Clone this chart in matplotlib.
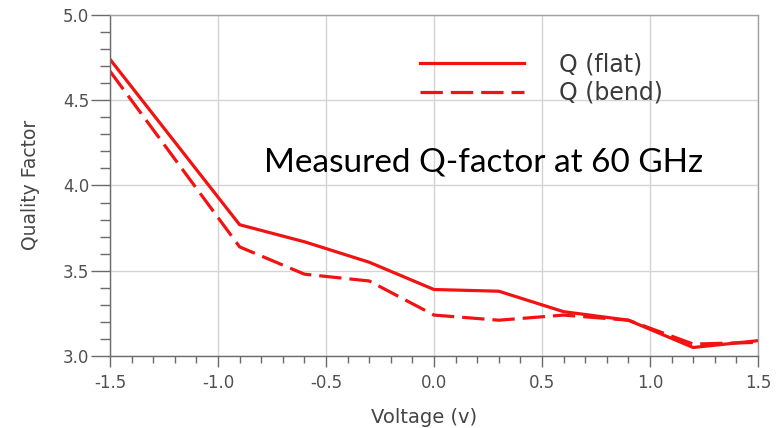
import numpy as np
import matplotlib
matplotlib.use("Agg")
from matplotlib import pyplot as plt
from matplotlib.ticker import MultipleLocator

voltage = [-1.5, -0.9, -0.6, -0.3, 0.0, 0.3, 0.6, 0.9, 1.2, 1.5]
q_flat = [4.74, 3.77, 3.67, 3.55, 3.39, 3.38, 3.26, 3.21, 3.05, 3.09]
q_bend = [4.67, 3.64, 3.48, 3.44, 3.24, 3.21, 3.24, 3.21, 3.07, 3.08]
labels = ['Q (flat)', 'Q (bend)']

red = '#f21212'
grey = '#6a6a6a'

plt.rcParams['font.family'] = ['DejaVu Sans']

fig = plt.figure(figsize=(7.82, 4.28), dpi=100)
ax = fig.add_axes([0.1407, 0.1682, 0.8286, 0.7968])

ax.plot(voltage, q_flat, color=red, lw=2.3, label=labels[0])
ax.plot(voltage, q_bend, color=red, lw=2.3, dashes=(7, 2.5), label=labels[1])

ax.set_xlim(-1.5, 1.5)
ax.set_ylim(3.0, 5.0)
ax.xaxis.set_major_locator(MultipleLocator(0.5))
ax.xaxis.set_minor_locator(MultipleLocator(0.1))
ax.yaxis.set_major_locator(MultipleLocator(0.5))
ax.yaxis.set_minor_locator(MultipleLocator(0.1))
ax.xaxis.set_major_formatter(lambda v, p: f'{v:.1f}')
ax.yaxis.set_major_formatter(lambda v, p: f'{v:.1f}')
ax.grid(True, which='major', color='#d4d4d4', lw=1.0)
ax.set_axisbelow(True)

for s in ax.spines.values():
    s.set_color('#a0a0a0')
    s.set_linewidth(1.0)
ax.spines['left'].set_color(grey)
ax.spines['bottom'].set_color(grey)
ax.tick_params(which='both', width=1.0, color=grey, labelsize=12, labelcolor='#505050')
ax.tick_params(axis='y', which='major', length=14, pad=1)
ax.tick_params(axis='y', which='minor', length=7)
ax.tick_params(axis='x', which='major', length=8, pad=5)
ax.tick_params(axis='x', which='minor', length=5)

ax.set_xlabel('Voltage (v)', fontsize=14, color='#454545')
ax.set_ylabel('Quality Factor', fontsize=13.5, color='#454545')
ax.xaxis.set_label_coords(0.485, -0.179)
ax.xaxis.label.set_va('center')
ax.yaxis.set_label_coords(-0.123, 0.5015)
ax.yaxis.label.set_va('center')

ax.legend(loc='upper left', bbox_to_anchor=(0.478, 0.89), frameon=False, fontsize=17,
          handlelength=4.4, handletextpad=1.5, labelspacing=0.19, borderpad=0, borderaxespad=0,
          labelcolor='#3a3a3a')

ax.text(0.577, 0.5425, 'Measured Q-factor at 60 GHz', transform=ax.transAxes, ha='center', va='baseline',
        fontsize=24, family=['Lato', 'DejaVu Sans'], color='black')

fig.savefig('out.png', dpi=100)
